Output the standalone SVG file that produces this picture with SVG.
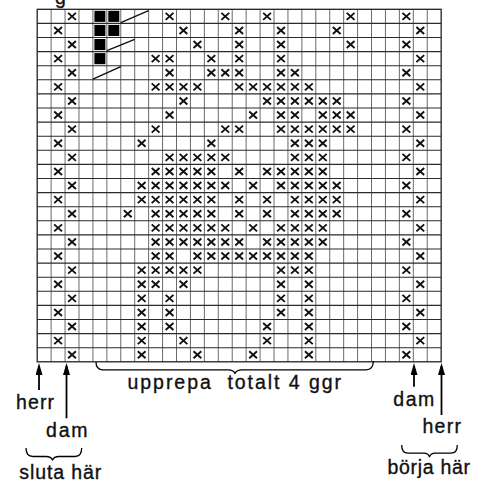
<svg xmlns="http://www.w3.org/2000/svg" width="481" height="484" viewBox="0 0 481 484">
<style>
.gv{stroke:#5a5a5a;stroke-width:0.9;fill:none}
.gh{stroke:#2a2a2a;stroke-width:1.1;fill:none}
.border{stroke:#222;stroke-width:1.3;fill:none}
.blk{fill:#000}
.diag{stroke:#111;stroke-width:1.4;fill:none}
.arr{stroke:#000;stroke-width:1.8;fill:none;marker-end:url(#ah)}
.brace{stroke:#000;stroke-width:1.3;fill:none;stroke-linejoin:round}
.lbl{font-family:"Liberation Sans",Arial,sans-serif;font-size:19.5px;fill:#111;stroke:#111;stroke-width:0.35;white-space:pre}
</style>
<defs>
<path id="x" d="M-3.9 -3.5L3.9 3.5M3.9 -3.5L-3.9 3.5"/>
<marker id="ah" viewBox="0 0 12 7" refX="9" refY="3.5" markerWidth="12" markerHeight="7" markerUnits="userSpaceOnUse" orient="auto">
<path d="M0 0L12 3.5L0 7z" fill="#000"/>
</marker>
</defs>
<rect width="481" height="484" fill="#fff"/>
<text class="lbl" x="55" y="3.5">g</text>
<g id="grid">
<path class="gv" d="M51.13 9.3V361.8M65.06 9.3V361.8M78.99 9.3V361.8M92.92 9.3V361.8M106.85 9.3V361.8M120.78 9.3V361.8M134.71 9.3V361.8M148.64 9.3V361.8M162.57 9.3V361.8M176.5 9.3V361.8M190.43 9.3V361.8M204.36 9.3V361.8M218.29 9.3V361.8M232.22 9.3V361.8M246.15 9.3V361.8M260.08 9.3V361.8M274.01 9.3V361.8M287.94 9.3V361.8M301.87 9.3V361.8M315.8 9.3V361.8M329.73 9.3V361.8M343.66 9.3V361.8M357.59 9.3V361.8M371.52 9.3V361.8M385.45 9.3V361.8M399.38 9.3V361.8M413.31 9.3V361.8M427.24 9.3V361.8"/>
<path class="gh" d="M37.2 23.4H441.17M37.2 37.5H441.17M37.2 51.6H441.17M37.2 65.7H441.17M37.2 79.8H441.17M37.2 93.9H441.17M37.2 108H441.17M37.2 122.1H441.17M37.2 136.2H441.17M37.2 150.3H441.17M37.2 164.4H441.17M37.2 178.5H441.17M37.2 192.6H441.17M37.2 206.7H441.17M37.2 220.8H441.17M37.2 234.9H441.17M37.2 249H441.17M37.2 263.1H441.17M37.2 277.2H441.17M37.2 291.3H441.17M37.2 305.4H441.17M37.2 319.5H441.17M37.2 333.6H441.17M37.2 347.7H441.17"/>
<rect class="border" x="37.2" y="9.3" width="403.97" height="352.5"/>
</g>
<g id="symbols">
<rect class="blk" x="94.4" y="10.8" width="11" height="11.1"/>
<rect class="blk" x="108.3" y="10.8" width="11" height="11.1"/>
<rect class="blk" x="94.4" y="24.9" width="11" height="11.1"/>
<rect class="blk" x="108.3" y="24.9" width="11" height="11.1"/>
<rect class="blk" x="94.4" y="39" width="11" height="11.1"/>
<rect class="blk" x="94.4" y="53.1" width="11" height="11.1"/>
<line class="diag" x1="120.8" y1="22.6" x2="148.6" y2="10.6"/>
<line class="diag" x1="106.9" y1="50.7" x2="134.7" y2="39.3"/>
<line class="diag" x1="92.9" y1="79.2" x2="120.8" y2="66.7"/>
</g>
<g id="marks" stroke="#111" stroke-width="1.9" fill="none">
<g transform="translate(0 16.35)"><use href="#x" x="72.03"/><use href="#x" x="169.54"/><use href="#x" x="225.26"/><use href="#x" x="267.05"/><use href="#x" x="350.63"/><use href="#x" x="406.35"/></g>
<g transform="translate(0 30.45)"><use href="#x" x="58.10"/><use href="#x" x="183.47"/><use href="#x" x="239.19"/><use href="#x" x="280.98"/><use href="#x" x="336.70"/><use href="#x" x="420.28"/></g>
<g transform="translate(0 44.55)"><use href="#x" x="72.03"/><use href="#x" x="197.40"/><use href="#x" x="239.19"/><use href="#x" x="280.98"/><use href="#x" x="350.63"/><use href="#x" x="406.35"/></g>
<g transform="translate(0 58.65)"><use href="#x" x="58.10"/><use href="#x" x="155.61"/><use href="#x" x="169.54"/><use href="#x" x="211.33"/><use href="#x" x="239.19"/><use href="#x" x="280.98"/><use href="#x" x="420.28"/></g>
<g transform="translate(0 72.75)"><use href="#x" x="72.03"/><use href="#x" x="169.54"/><use href="#x" x="211.33"/><use href="#x" x="225.26"/><use href="#x" x="239.19"/><use href="#x" x="280.98"/><use href="#x" x="294.91"/><use href="#x" x="406.35"/></g>
<g transform="translate(0 86.85)"><use href="#x" x="58.10"/><use href="#x" x="155.61"/><use href="#x" x="169.54"/><use href="#x" x="183.47"/><use href="#x" x="197.40"/><use href="#x" x="239.19"/><use href="#x" x="253.12"/><use href="#x" x="267.05"/><use href="#x" x="280.98"/><use href="#x" x="294.91"/><use href="#x" x="308.84"/><use href="#x" x="420.28"/></g>
<g transform="translate(0 100.95)"><use href="#x" x="72.03"/><use href="#x" x="183.47"/><use href="#x" x="267.05"/><use href="#x" x="280.98"/><use href="#x" x="294.91"/><use href="#x" x="308.84"/><use href="#x" x="322.77"/><use href="#x" x="336.70"/><use href="#x" x="406.35"/></g>
<g transform="translate(0 115.05)"><use href="#x" x="58.10"/><use href="#x" x="169.54"/><use href="#x" x="253.12"/><use href="#x" x="280.98"/><use href="#x" x="294.91"/><use href="#x" x="322.77"/><use href="#x" x="336.70"/><use href="#x" x="350.63"/><use href="#x" x="420.28"/></g>
<g transform="translate(0 129.15)"><use href="#x" x="72.03"/><use href="#x" x="155.61"/><use href="#x" x="225.26"/><use href="#x" x="239.19"/><use href="#x" x="280.98"/><use href="#x" x="294.91"/><use href="#x" x="308.84"/><use href="#x" x="322.77"/><use href="#x" x="336.70"/><use href="#x" x="350.63"/><use href="#x" x="406.35"/></g>
<g transform="translate(0 143.25)"><use href="#x" x="58.10"/><use href="#x" x="141.68"/><use href="#x" x="211.33"/><use href="#x" x="294.91"/><use href="#x" x="308.84"/><use href="#x" x="322.77"/><use href="#x" x="420.28"/></g>
<g transform="translate(0 157.35)"><use href="#x" x="72.03"/><use href="#x" x="169.54"/><use href="#x" x="183.47"/><use href="#x" x="197.40"/><use href="#x" x="211.33"/><use href="#x" x="225.26"/><use href="#x" x="294.91"/><use href="#x" x="308.84"/><use href="#x" x="322.77"/><use href="#x" x="406.35"/></g>
<g transform="translate(0 171.45)"><use href="#x" x="58.10"/><use href="#x" x="155.61"/><use href="#x" x="169.54"/><use href="#x" x="183.47"/><use href="#x" x="197.40"/><use href="#x" x="211.33"/><use href="#x" x="239.19"/><use href="#x" x="267.05"/><use href="#x" x="280.98"/><use href="#x" x="294.91"/><use href="#x" x="308.84"/><use href="#x" x="322.77"/><use href="#x" x="420.28"/></g>
<g transform="translate(0 185.55)"><use href="#x" x="72.03"/><use href="#x" x="141.68"/><use href="#x" x="155.61"/><use href="#x" x="169.54"/><use href="#x" x="183.47"/><use href="#x" x="197.40"/><use href="#x" x="211.33"/><use href="#x" x="225.26"/><use href="#x" x="253.12"/><use href="#x" x="280.98"/><use href="#x" x="294.91"/><use href="#x" x="308.84"/><use href="#x" x="322.77"/><use href="#x" x="336.70"/><use href="#x" x="406.35"/></g>
<g transform="translate(0 199.65)"><use href="#x" x="58.10"/><use href="#x" x="141.68"/><use href="#x" x="155.61"/><use href="#x" x="169.54"/><use href="#x" x="183.47"/><use href="#x" x="197.40"/><use href="#x" x="211.33"/><use href="#x" x="239.19"/><use href="#x" x="267.05"/><use href="#x" x="294.91"/><use href="#x" x="308.84"/><use href="#x" x="322.77"/><use href="#x" x="336.70"/><use href="#x" x="420.28"/></g>
<g transform="translate(0 213.75)"><use href="#x" x="72.03"/><use href="#x" x="127.75"/><use href="#x" x="155.61"/><use href="#x" x="169.54"/><use href="#x" x="183.47"/><use href="#x" x="197.40"/><use href="#x" x="211.33"/><use href="#x" x="239.19"/><use href="#x" x="267.05"/><use href="#x" x="294.91"/><use href="#x" x="308.84"/><use href="#x" x="322.77"/><use href="#x" x="336.70"/><use href="#x" x="406.35"/></g>
<g transform="translate(0 227.85)"><use href="#x" x="58.10"/><use href="#x" x="155.61"/><use href="#x" x="169.54"/><use href="#x" x="183.47"/><use href="#x" x="197.40"/><use href="#x" x="211.33"/><use href="#x" x="225.26"/><use href="#x" x="253.12"/><use href="#x" x="280.98"/><use href="#x" x="294.91"/><use href="#x" x="308.84"/><use href="#x" x="322.77"/><use href="#x" x="420.28"/></g>
<g transform="translate(0 241.95)"><use href="#x" x="72.03"/><use href="#x" x="155.61"/><use href="#x" x="169.54"/><use href="#x" x="183.47"/><use href="#x" x="197.40"/><use href="#x" x="211.33"/><use href="#x" x="225.26"/><use href="#x" x="239.19"/><use href="#x" x="267.05"/><use href="#x" x="280.98"/><use href="#x" x="294.91"/><use href="#x" x="308.84"/><use href="#x" x="322.77"/><use href="#x" x="406.35"/></g>
<g transform="translate(0 256.05)"><use href="#x" x="58.10"/><use href="#x" x="155.61"/><use href="#x" x="169.54"/><use href="#x" x="197.40"/><use href="#x" x="211.33"/><use href="#x" x="225.26"/><use href="#x" x="239.19"/><use href="#x" x="253.12"/><use href="#x" x="267.05"/><use href="#x" x="280.98"/><use href="#x" x="294.91"/><use href="#x" x="308.84"/><use href="#x" x="420.28"/></g>
<g transform="translate(0 270.15)"><use href="#x" x="72.03"/><use href="#x" x="141.68"/><use href="#x" x="155.61"/><use href="#x" x="169.54"/><use href="#x" x="183.47"/><use href="#x" x="197.40"/><use href="#x" x="280.98"/><use href="#x" x="294.91"/><use href="#x" x="308.84"/><use href="#x" x="406.35"/></g>
<g transform="translate(0 284.25)"><use href="#x" x="58.10"/><use href="#x" x="141.68"/><use href="#x" x="155.61"/><use href="#x" x="183.47"/><use href="#x" x="280.98"/><use href="#x" x="308.84"/><use href="#x" x="420.28"/></g>
<g transform="translate(0 298.35)"><use href="#x" x="72.03"/><use href="#x" x="141.68"/><use href="#x" x="169.54"/><use href="#x" x="280.98"/><use href="#x" x="308.84"/><use href="#x" x="406.35"/></g>
<g transform="translate(0 312.45)"><use href="#x" x="58.10"/><use href="#x" x="141.68"/><use href="#x" x="169.54"/><use href="#x" x="280.98"/><use href="#x" x="308.84"/><use href="#x" x="420.28"/></g>
<g transform="translate(0 326.55)"><use href="#x" x="72.03"/><use href="#x" x="141.68"/><use href="#x" x="169.54"/><use href="#x" x="267.05"/><use href="#x" x="308.84"/><use href="#x" x="406.35"/></g>
<g transform="translate(0 340.65)"><use href="#x" x="58.10"/><use href="#x" x="141.68"/><use href="#x" x="183.47"/><use href="#x" x="267.05"/><use href="#x" x="308.84"/><use href="#x" x="420.28"/></g>
<g transform="translate(0 354.75)"><use href="#x" x="72.03"/><use href="#x" x="141.68"/><use href="#x" x="197.40"/><use href="#x" x="253.12"/><use href="#x" x="308.84"/><use href="#x" x="406.35"/></g>
</g>
<g id="connectors">
<line class="arr" x1="39" y1="390" x2="39" y2="366"/>
<line class="arr" x1="66.5" y1="418.3" x2="66.5" y2="366"/>
<line class="arr" x1="414" y1="386.7" x2="414" y2="366"/>
<line class="arr" x1="441.5" y1="415" x2="441.5" y2="366"/>
<path class="brace" d="M96 362Q96 369.8 103 369.8L228 369.8Q233.5 369.8 235 373.5Q236.5 369.8 242 369.8L366 369.8Q373.3 369.8 373.3 361"/>
<path class="brace" d="M26 448Q26 456.5 33 456.5L46 456.5Q51 456.5 52.5 460Q54 456.5 59 456.5L75 456.5Q81.7 456.5 81.7 448"/>
<path class="brace" d="M401.7 445Q401.7 453.2 408 453.2L424 453.2Q428 453.2 429.5 456.8Q431 453.2 435 453.2L451 453.2Q457.3 453.2 457.3 445"/>
</g>
<g id="label-herr-left"><text class="lbl" x="16" y="409" textLength="38" lengthAdjust="spacing">herr</text></g>
<g id="label-dam-left"><text class="lbl" x="46" y="436.7" textLength="41.5" lengthAdjust="spacing">dam</text></g>
<g id="label-sluta"><text class="lbl" x="19.3" y="479" textLength="82" lengthAdjust="spacing">sluta här</text></g>
<g id="label-upprepa"><text class="lbl" x="127.5" y="389.3" textLength="213.5" lengthAdjust="spacing">upprepa  totalt 4 ggr</text></g>
<g id="label-dam-right"><text class="lbl" x="393.3" y="406" textLength="41" lengthAdjust="spacing">dam</text></g>
<g id="label-herr-right"><text class="lbl" x="422.5" y="433.3" textLength="38.5" lengthAdjust="spacing">herr</text></g>
<g id="label-borja"><text class="lbl" x="387.5" y="474" textLength="82.5" lengthAdjust="spacing">börja här</text></g>
</svg>
